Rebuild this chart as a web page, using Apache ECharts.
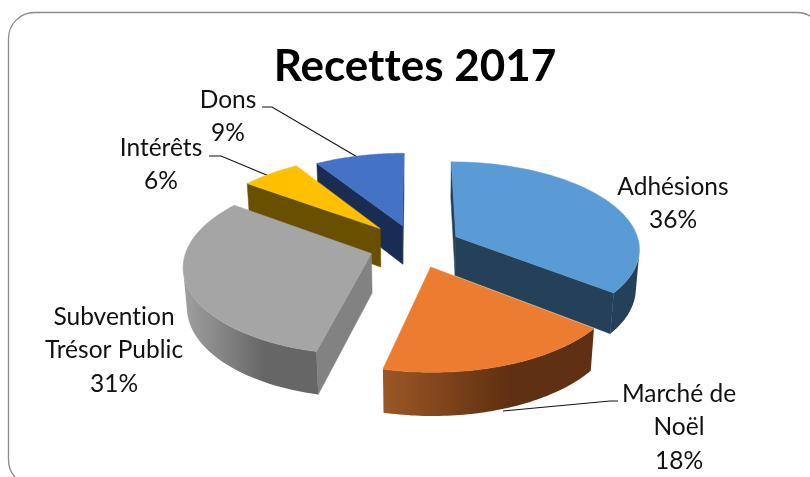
<!DOCTYPE html>
<html><head><meta charset="utf-8">
<style>html,body{margin:0;padding:0;background:#fff}#c{width:810px;height:477px}</style>
<script src="https://cdn.jsdelivr.net/npm/echarts@6/dist/echarts.min.js"></script>
</head><body><div id="c"></div>
<script>
// --- data
var titleText = 'Recettes 2017';
var categories = ['Adhésions', 'Marché de Noël', 'Subvention Trésor Public', 'Intérêts', 'Dons'];
// shares as measured from the slice angles; they round to the printed labels
var percents = [35.6, 18.1, 31.3, 6, 9];
// --- labels (text lines per category)
var labelLines = [['Adhésions', '36%'], ['Marché de', 'Noël', '18%'], ['Subvention', 'Trésor Public', '31%'], ['Intérêts', '6%'], ['Dons', '9%']];
// --- layout and style
var labelAnchors = [[673, 187], [679, 394], [114, 317], [161, 148], [228, 100]];
var leaderPaths = [null, [[503, 411], [610, 401], [618, 401]], null, [[269, 176], [221, 156], [209, 156]], [[359, 158], [272, 107], [262, 107]]];
var topColors = ['#5B9BD5', '#EC7C30', '#A5A5A5', '#FFC000', '#4472C4'];
var sideColors = [['#254059', '#254059'], ['#9C5725', '#5F3011'], ['#A0A0A0', '#666666'], ['#685000', '#685000'], ['#1C2E54', '#1C2E54']];
var wallColors = ['#254059', '#8A4B20', '#828282', '#685000', '#1A2C52'];
var explode = [46, 46, 46, 52, 46];
var drawOrder = [4, 3, 0, 2, 1];
var view = { cx: 415, cy: 246, R: 184, H: 45, tilt: 28, dist: 1300 };

// Lato's ligatures (tt, ti) are not in the reference's typeface
var origGetContext = HTMLCanvasElement.prototype.getContext;
HTMLCanvasElement.prototype.getContext = function () {
  var ctx = origGetContext.apply(this, arguments);
  if (ctx && 'textRendering' in ctx) ctx.textRendering = 'optimizeSpeed';
  return ctx;
};

var total = percents.reduce(function (a, b) { return a + b; }, 0);
var tilt = view.tilt * Math.PI / 180;
function project(X, Z, h) {
  var y = Z * Math.sin(tilt) + h * Math.cos(tilt);
  var z = view.dist + Z * Math.cos(tilt) - h * Math.sin(tilt);
  var f = view.dist / z;
  return [view.cx + X * f, view.cy - y * f];
}
function area(p) {
  var s = 0;
  for (var i = 0; i < p.length; i++) {
    var q = p[(i + 1) % p.length];
    s += p[i][0] * q[1] - q[0] * p[i][1];
  }
  return s / 2;
}
var starts = [], acc = 0;
percents.forEach(function (v) { starts.push(acc); acc += v; });

function renderSlice(params, api) {
  var i = api.value(0);
  var a0 = starts[i] / total * 2 * Math.PI, a1 = (starts[i] + percents[i]) / total * 2 * Math.PI;
  var mid = (a0 + a1) / 2;
  var ox = explode[i] * Math.sin(mid), oz = explode[i] * Math.cos(mid);
  function rim(t, h) { return project(ox + view.R * Math.sin(t), oz + view.R * Math.cos(t), h); }
  var apexTop = project(ox, oz, 0), apexBot = project(ox, oz, -view.H);
  var n = 60, children = [], topPts = [apexTop], k, t;
  for (k = 0; k <= n; k++) topPts.push(rim(a0 + (a1 - a0) * k / n, 0));

  // outer skin: keep only the part that faces the viewer
  var upper = [], lower = [];
  for (k = 0; k <= n; k++) {
    t = a0 + (a1 - a0) * k / n;
    var next = a0 + (a1 - a0) * Math.min(k + 1, n) / n, prev = k === n ? a0 + (a1 - a0) * (n - 1) / n : t;
    var q = [rim(prev, 0), rim(next, 0), rim(next, -view.H), rim(prev, -view.H)];
    if (area(q) < 0) { upper.push(rim(t, 0)); lower.unshift(rim(t, -view.H)); }
  }
  // radial cut walls
  [a0, a1].forEach(function (t, w) {
    var q = [apexTop, rim(t, 0), rim(t, -view.H), apexBot];
    var sign = w === 0 ? -1 : 1;
    if (area(q) * sign > 0) {
      children.push({ type: 'polygon', shape: { points: q }, style: { fill: wallColors[i], stroke: wallColors[i], lineWidth: 0.5 } });
    }
  });
  if (upper.length > 1) {
    var pts = upper.concat(lower), xs = pts.map(function (p) { return p[0]; });
    var x0 = Math.min.apply(null, xs), x1 = Math.max.apply(null, xs);
    children.push({
      type: 'polygon', shape: { points: pts },
      style: {
        stroke: null,
        fill: new echarts.graphic.LinearGradient(x0, 0, x1, 0, [{ offset: 0, color: sideColors[i][0] }, { offset: 0.6, color: sideColors[i][1] }, { offset: 1, color: sideColors[i][1] }], true)
      }
    });
  }
  children.push({ type: 'polygon', shape: { points: topPts }, style: { fill: topColors[i], stroke: topColors[i], lineWidth: 0.5 } });
  return { type: 'group', children: children };
}

var lineStep = 33.5;
var labelGraphics = [];
labelLines.forEach(function (lines, i) {
  labelGraphics.push({
    type: 'text', x: labelAnchors[i][0], y: labelAnchors[i][1] + (lines.length - 1) * lineStep / 2, z: 20,
    style: { text: lines.join('\n'), font: '24.5px Lato, sans-serif', lineHeight: lineStep, fill: '#111', align: 'center', verticalAlign: 'middle' }
  });
  if (leaderPaths[i]) {
    labelGraphics.push({
      type: 'polyline', z: 4, shape: { points: leaderPaths[i] },
      style: { stroke: '#111', lineWidth: 1.1, fill: null }
    });
  }
});

var chart = echarts.init(document.getElementById('c'), null, { renderer: 'canvas' });
chart.setOption({
  animation: false,
  backgroundColor: '#fff',
  title: {
    text: titleText, left: 410, textAlign: 'center', top: 40,
    textStyle: { fontFamily: 'Lato, sans-serif', fontWeight: 'bold', fontSize: 44, color: '#000' }
  },
  graphic: [{
    type: 'rect', z: -1, shape: { x: 8.5, y: 12.5, width: 814.5, height: 473.5, r: 26 },
    style: { fill: '#fff', stroke: '#8C8C8C', lineWidth: 1.3 }
  }].concat(labelGraphics),
  series: [{
    type: 'custom', coordinateSystem: 'none', renderItem: renderSlice, z: 5,
    data: drawOrder.map(function (i) { return { name: categories[i], value: [i, percents[i]] }; })
  }]
});
</script></body></html>
